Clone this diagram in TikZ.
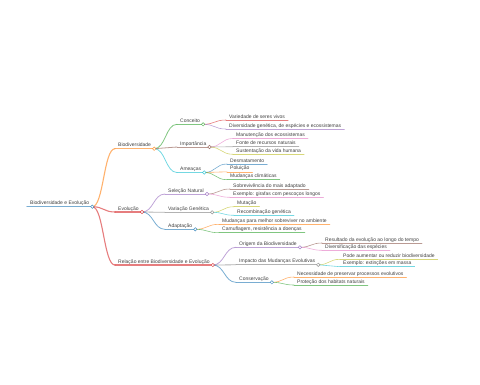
\documentclass[tikz,border=0pt]{standalone}
\usepackage{fontspec}
\setmainfont{Liberation Sans}
\usepackage{tikz}
\usetikzlibrary{calc}

\definecolor{cblue}{HTML}{1F77B4}
\definecolor{corange}{HTML}{FF7F0E}
\definecolor{cgreen}{HTML}{2CA02C}
\definecolor{cred}{HTML}{D62728}
\definecolor{cpurple}{HTML}{9467BD}
\definecolor{cbrown}{HTML}{8C564B}
\definecolor{cpink}{HTML}{E377C2}
\definecolor{cgray}{HTML}{7F7F7F}
\definecolor{colive}{HTML}{BCBD22}
\definecolor{ccyan}{HTML}{17BECF}

\begin{document}
\begin{tikzpicture}[x=1pt,y=-1pt,
    topic/.style={anchor=south west,inner xsep=3pt,inner ysep=1pt,
      text height=3.6pt,text depth=0.8pt,text=black!75,
      font=\fontsize{5}{6}\selectfont},
    branch/.style={draw opacity=0.6,line cap=round}]
  \useasboundingbox (0,0) rectangle (480,384);
  % Root and first level
  \node[topic] (root) at (27,206.7) {Biodiversidade e Evolução};
  \node[topic] (bio) at (115,148.7) {Biodiversidade};
  \node[topic] (evo) at (115,212) {Evolução};
  \node[topic] (rel) at (115,265) {Relação entre Biodiversidade e Evolução};
  % Biodiversidade
  \node[topic] (conc) at (177,124.3) {Conceito};
  \node[topic] (imp) at (177,147) {Importância};
  \node[topic] (ame) at (177,172.5) {Ameaças};
  \node[topic] (vari) at (226,120) {Variedade de seres vivos};
  \node[topic] (divg) at (226,129) {Diversidade genética, de espécies e ecossistemas};
  \node[topic] (manu) at (233,138.5) {Manutenção dos ecossistemas};
  \node[topic] (fonte) at (233,146.7) {Fonte de recursos naturais};
  \node[topic] (sust) at (233,154.3) {Sustentação da vida humana};
  \node[topic] (desm) at (227,164) {Desmatamento};
  \node[topic] (polu) at (227,171.8) {Poluição};
  \node[topic] (mudc) at (227,179.7) {Mudanças climáticas};
  % Evolucao
  \node[topic] (sel) at (165,194) {Seleção Natural};
  \node[topic] (varg) at (165,212.3) {Variação Genética};
  \node[topic] (adap) at (165,229.3) {Adaptação};
  \node[topic] (sobr) at (230,189) {Sobrevivência do mais adaptado};
  \node[topic] (gira) at (230,197.3) {Exemplo: girafas com pescoços longos};
  \node[topic] (muta) at (234,206.7) {Mutação};
  \node[topic] (reco) at (234,215.3) {Recombinação genética};
  \node[topic] (mudm) at (219,224.3) {Mudanças para melhor sobreviver no ambiente};
  \node[topic] (camu) at (219,232.7) {Camuflagem, resistência a doenças};
  % Relacao
  \node[topic] (orig) at (236,247.3) {Origem da Biodiversidade};
  \node[topic] (impa) at (236,264.8) {Impacto das Mudanças Evolutivas};
  \node[topic] (cons) at (236,282.3) {Conservação};
  \node[topic] (resu) at (322,243) {Resultado da evolução ao longo do tempo};
  \node[topic] (dive) at (322,250.3) {Diversificação das espécies};
  \node[topic] (pode) at (340,259.3) {Pode aumentar ou reduzir biodiversidade};
  \node[topic] (exti) at (340,266.7) {Exemplo: extinções em massa};
  \node[topic] (nece) at (294,277) {Necessidade de preservar processos evolutivos};
  \node[topic] (prot) at (294,285) {Proteção dos habitats naturais};

  % underlines
  \foreach \nd/\col/\lw in {root/cblue/1.4,bio/corange/1.1,evo/cred/1.1,rel/cred/1.1,
      conc/cgreen/0.8,imp/cbrown/0.8,ame/ccyan/0.8,sel/cpurple/0.8,varg/cgray/0.8,adap/cblue/0.8,
      orig/cpurple/0.8,impa/cgray/0.8,cons/cblue/0.8,
      vari/cred/0.6,divg/cpurple/0.6,manu/cpink/0.6,fonte/cgray/0.6,sust/colive/0.6,
      desm/cblue/0.6,polu/corange/0.6,mudc/cgreen/0.6,sobr/cbrown/0.6,gira/cpink/0.6,
      muta/colive/0.6,reco/ccyan/0.6,mudm/corange/0.6,camu/cgreen/0.6,
      resu/cbrown/0.6,dive/cpink/0.6,pode/colive/0.6,exti/ccyan/0.6,
      nece/corange/0.6,prot/cgreen/0.6}
    \draw[branch,\col,line width=\lw pt] (\nd.south west) -- (\nd.south east);

  % links
  \foreach \pa/\ch/\col/\lw in {root/bio/corange/1.1,root/evo/cred/1.1,root/rel/cred/1.1,
      bio/conc/cgreen/0.8,bio/imp/cbrown/0.8,bio/ame/ccyan/0.8,
      evo/sel/cpurple/0.8,evo/varg/cgray/0.8,evo/adap/cblue/0.8,
      rel/orig/cpurple/0.8,rel/impa/cgray/0.8,rel/cons/cblue/0.8,
      conc/vari/cred/0.6,conc/divg/cpurple/0.6,
      imp/manu/cpink/0.6,imp/fonte/cgray/0.6,imp/sust/colive/0.6,
      ame/desm/cblue/0.6,ame/polu/corange/0.6,ame/mudc/cgreen/0.6,
      sel/sobr/cbrown/0.6,sel/gira/cpink/0.6,varg/muta/colive/0.6,varg/reco/ccyan/0.6,
      adap/mudm/corange/0.6,adap/camu/cgreen/0.6,
      orig/resu/cbrown/0.6,orig/dive/cpink/0.6,impa/pode/colive/0.6,impa/exti/ccyan/0.6,
      cons/nece/corange/0.6,cons/prot/cgreen/0.6}
    \draw[branch,\col,line width=\lw pt]
      let \p1=(\pa.south east), \p2=(\ch.south west) in
      (\p1) .. controls ({0.5*\x1+0.5*\x2},\y1) and ({0.5*\x1+0.5*\x2},\y2) .. (\p2);

  % circles on nodes with children
  \foreach \nd/\col in {root/cblue,bio/corange,evo/cred,rel/cred,conc/cgreen,imp/cbrown,
      ame/ccyan,sel/cpurple,varg/cgray,adap/cblue,orig/cpurple,impa/cgray,cons/cblue}
    \draw[\col,draw opacity=0.8,line width=0.5pt,fill=white] (\nd.south east) circle (1.7pt);
\end{tikzpicture}
\end{document}
